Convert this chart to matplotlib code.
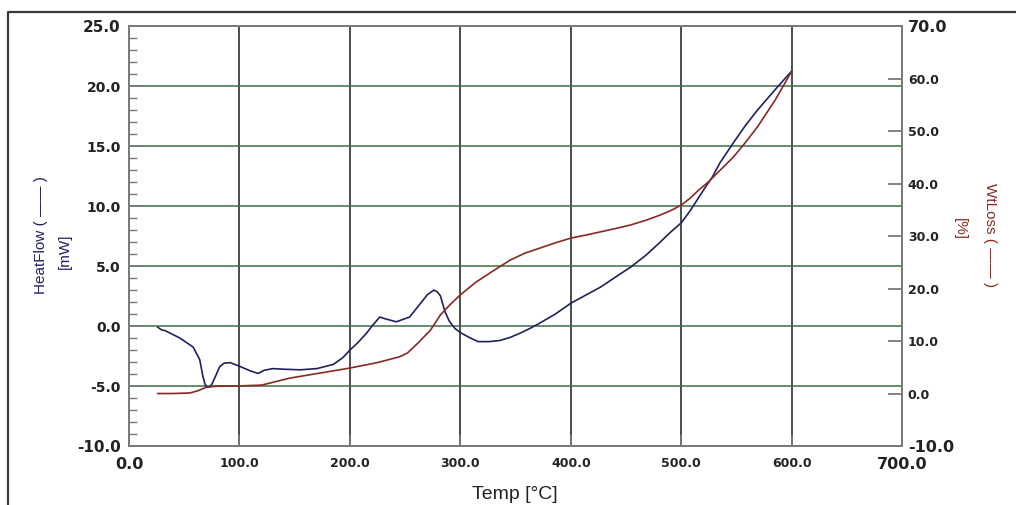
import numpy as np
import matplotlib.pyplot as plt
from matplotlib.lines import Line2D

# heat flow curve (left axis, mW)
temp_hf = [26, 29, 33, 46, 58, 64, 67, 69, 71, 73, 75, 78, 82, 86, 91.5, 100,
           110, 117, 122, 130, 140, 155, 170, 185, 194, 200, 207, 215, 220,
           227, 232, 242, 254, 264, 270, 276, 279, 282, 286, 290, 295, 300,
           309, 316, 326, 336, 345, 354, 363, 372, 386, 400, 414, 427, 440,
           454, 468, 481, 490, 500, 508, 515, 522, 528, 535, 547, 558, 569,
           585, 600]
heatflow = [-0.1, -0.3, -0.4, -1.0, -1.75, -2.8, -4.25, -4.9, -5.1, -5.05,
            -4.85, -4.25, -3.4, -3.1, -3.05, -3.35, -3.75, -3.95, -3.7, -3.55,
            -3.6, -3.65, -3.55, -3.2, -2.6, -2.0, -1.4, -0.6, 0.0, 0.75, 0.6,
            0.35, 0.75, 1.9, 2.6, 3.0, 2.85, 2.5, 1.2, 0.4, -0.2, -0.55, -1.0,
            -1.3, -1.3, -1.2, -0.95, -0.6, -0.2, 0.25, 1.0, 1.9, 2.6, 3.25,
            4.05, 4.9, 5.9, 7.0, 7.8, 8.6, 9.6, 10.6, 11.6, 12.4, 13.6, 15.25,
            16.7, 18.0, 19.7, 21.25]

# weight loss curve (right axis, %)
temp_wl = [26, 40, 55, 62, 70, 80, 100, 120, 146, 173, 200, 225, 245, 252,
           262, 273, 282, 291, 300, 314, 327, 345, 358, 372, 386, 400, 414,
           427, 440, 454, 468, 481, 491, 500, 508, 515, 525, 535, 547, 558,
           569, 585, 600]
wtloss = [0.0, 0.0, 0.1, 0.5, 1.2, 1.4, 1.45, 1.6, 2.95, 3.9, 4.85, 5.9, 7.0,
          7.7, 9.7, 12.1, 15.0, 17.0, 18.8, 21.2, 23.0, 25.4, 26.7, 27.7, 28.7,
          29.6, 30.2, 30.8, 31.4, 32.1, 33.0, 34.0, 34.9, 35.9, 37.2, 38.6,
          40.4, 42.5, 45.0, 47.8, 50.8, 55.9, 61.4]

xticks = [0, 100, 200, 300, 400, 500, 600, 700]
hf_ticks = [-10, -5, 0, 5, 10, 15, 20, 25]
wl_ticks = [-10, 0, 10, 20, 30, 40, 50, 60, 70]

navy = '#1f2160'
darkred = '#862a24'
spine_c = '#7a7a7a'
tickfont = 'DejaVu Sans'

fig = plt.figure(figsize=(10.16, 5.05), dpi=100)
ax = fig.add_axes((0.127, 0.1168, 0.761, 0.8317))

# grid
for t in xticks[1:-1]:
    ax.axvline(t, color='#18201a', lw=1.1, zorder=1)
for v in hf_ticks[1:-1]:
    ax.axhline(v, color='#3f6f40', lw=1.1, zorder=1)

ax.plot(temp_hf, heatflow, color=navy, lw=1.2, zorder=3)
ax.set_xlim(0, 700)
ax.set_ylim(-10, 25)

ax.set_xticks(xticks)
ax.set_xticklabels([f'{t:.1f}' for t in xticks])
ax.set_yticks(hf_ticks)
ax.set_yticklabels([f'{v:.1f}' for v in hf_ticks])
ax.set_yticks(np.arange(-10, 25.1, 1), minor=True)
ax.tick_params(axis='x', direction='in', length=8, width=1.2, color=spine_c, pad=8)
ax.tick_params(axis='y', which='major', direction='in', length=9, width=1.2,
               color=spine_c, pad=6)
ax.tick_params(axis='y', which='minor', direction='in', length=6, width=1.0,
               color=spine_c)

for lab in ax.get_xticklabels():
    lab.set_fontfamily(tickfont)
    lab.set_fontweight('bold')
    lab.set_fontsize(9)
    lab.set_color('#222222')
for lab in ax.get_yticklabels():
    lab.set_fontfamily(tickfont)
    lab.set_fontweight('bold')
    lab.set_fontsize(10)
    lab.set_color('#222222')
for lab in (ax.get_xticklabels()[0], ax.get_xticklabels()[-1]):
    lab.set_fontsize(11.5)
ax.get_yticklabels()[-1].set_fontsize(11)
ax.get_yticklabels()[0].set_fontsize(11)

for s in ax.spines.values():
    s.set_color(spine_c)
    s.set_linewidth(1.3)

ax2 = ax.twinx()
ax2.plot(temp_wl, wtloss, color=darkred, lw=1.2, zorder=3)
ax2.set_ylim(-10, 70)
ax2.set_yticks(wl_ticks)
ax2.set_yticklabels([f'{v:.1f}' for v in wl_ticks])
ax2.tick_params(axis='y', direction='in', length=10, width=1.3, color=spine_c, pad=4)
for lab in ax2.get_yticklabels():
    lab.set_fontfamily(tickfont)
    lab.set_fontweight('bold')
    lab.set_fontsize(9)
    lab.set_color('#222222')
ax2.get_yticklabels()[0].set_fontsize(11.5)
ax2.get_yticklabels()[-1].set_fontsize(11.5)
for s in ax2.spines.values():
    s.set_color(spine_c)
    s.set_linewidth(1.3)

# axis titles
lab_font = 'Liberation Sans'
fig.text(0.5065, 0.02, 'Temp [°C]', ha='center', va='center', fontsize=14,
         family=lab_font, color='#222222')
fig.text(0.040, 1 - 235 / 505, 'HeatFlow ( —— )', rotation=90, ha='center',
         va='center', fontsize=11, family=lab_font, color=navy)
fig.text(0.064, 1 - 251 / 505, '[mW]', rotation=90, ha='center', va='center',
         fontsize=11, family=lab_font, color=navy)
fig.text(0.974, 1 - 235 / 505, 'WtLoss ( —— )', rotation=-90, ha='center',
         va='center', fontsize=11, family=lab_font, color=darkred)
fig.text(0.945, 1 - 229 / 505, '[%]', rotation=-90, ha='center', va='center',
         fontsize=11, family=lab_font, color=darkred)

# outer frame (top and left edges of the screenshot border)
fig.add_artist(Line2D([0.008, 0.008, 1.0], [0.0, 0.977, 0.977],
                      transform=fig.transFigure, color='#3a3a3a', lw=1.6))

fig.savefig('out.png', dpi=100)
